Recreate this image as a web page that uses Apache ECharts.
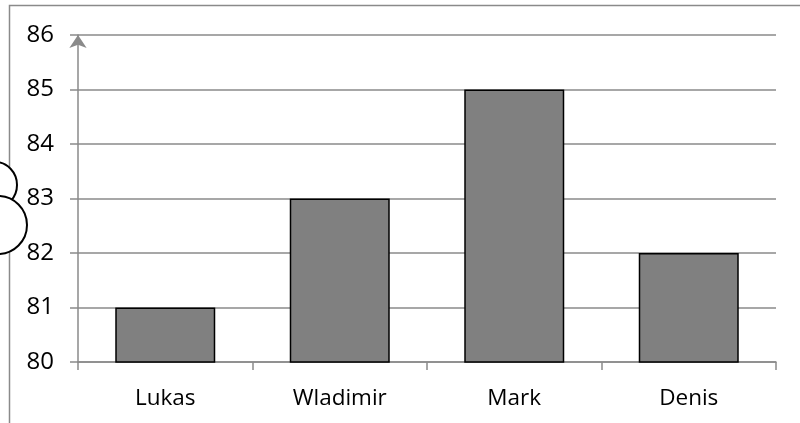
<!DOCTYPE html>
<html>
<head>
<meta charset="utf-8">
<script src="https://cdn.jsdelivr.net/npm/echarts@6/dist/echarts.min.js"></script>
<style>
  html, body { margin: 0; padding: 0; background: #fff; }
  #chart { width: 800px; height: 423px; }
</style>
</head>
<body>
<div id="chart"></div>
<script>
// Scores per person
const names = ['Lukas', 'Wladimir', 'Mark', 'Denis'];
const scores = [81, 83, 85, 82];
const yMin = 80;
const yMax = 86;
const yStep = 1;

const lineGrey = '#8a8a8a';
const font = '"Open Sans", "Liberation Sans", sans-serif';

const chart = echarts.init(document.getElementById('chart'), null, { renderer: 'canvas' });

chart.setOption({
  animation: false,
  backgroundColor: '#ffffff',
  grid: { left: 78, right: 24, top: 35, bottom: 61, containLabel: false },
  xAxis: {
    type: 'category',
    data: names,
    boundaryGap: true,
    axisLine: { show: true, lineStyle: { color: lineGrey, width: 1.5 } },
    axisTick: { show: true, length: 8, alignWithLabel: false, lineStyle: { color: lineGrey, width: 1.5 } },
    axisLabel: { color: '#000', fontFamily: font, fontSize: 22.5, margin: 25 },
    splitLine: { show: false }
  },
  yAxis: {
    type: 'value',
    min: yMin,
    max: yMax,
    interval: yStep,
    axisLine: {
      show: true,
      symbol: ['none', 'arrow'],
      symbolSize: [13, 13],
      symbolOffset: [0, 0],
      lineStyle: { color: lineGrey, width: 1.5 }
    },
    axisTick: { show: true, length: 8, lineStyle: { color: lineGrey, width: 1.5 } },
    axisLabel: { color: '#000', fontFamily: font, fontSize: 24, margin: 24 },
    splitLine: { show: true, lineStyle: { color: lineGrey, width: 1.5 } }
  },
  series: [{
    type: 'bar',
    data: scores,
    barWidth: 100,
    itemStyle: { color: '#808080', borderColor: '#000000', borderWidth: 1.5 }
  }],
  graphic: [
    {
      type: 'rect',
      silent: true,
      z: 100,
      shape: { x: 9.5, y: 5.5, width: 900, height: 600 },
      style: { fill: null, stroke: lineGrey, lineWidth: 1.5 }
    },
    {
      type: 'ellipse',
      silent: true,
      z: 101,
      shape: { cx: -5, cy: 185, rx: 22, ry: 23 },
      style: { fill: '#fff', stroke: '#000', lineWidth: 2 }
    },
    {
      type: 'ellipse',
      silent: true,
      z: 102,
      shape: { cx: -2, cy: 225, rx: 29, ry: 29 },
      style: { fill: '#fff', stroke: '#000', lineWidth: 2 }
    }
  ]
});
</script>
</body>
</html>
